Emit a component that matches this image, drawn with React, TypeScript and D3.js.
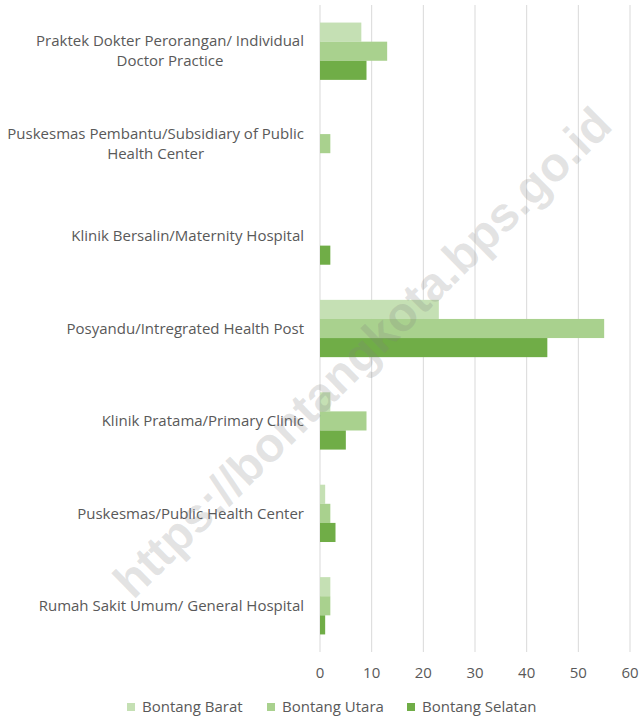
import React, { useEffect, useRef } from 'react';
import * as d3 from 'd3';

const categories = [
  'Praktek Dokter Perorangan/ Individual Doctor Practice',
  'Puskesmas Pembantu/Subsidiary of Public Health Center',
  'Klinik Bersalin/Maternity Hospital',
  'Posyandu/Intregrated Health Post',
  'Klinik Pratama/Primary Clinic',
  'Puskesmas/Public Health Center',
  'Rumah Sakit Umum/ General Hospital',
];
const seriesNames = ['Bontang Barat', 'Bontang Utara', 'Bontang Selatan'];
const bontangBarat = [8, 0, 0, 23, 2, 1, 2];
const bontangUtara = [13, 2, 0, 55, 9, 2, 2];
const bontangSelatan = [9, 0, 2, 44, 5, 3, 1];
const xTicks = [0, 10, 20, 30, 40, 50, 60];
const colors = ['#c5e0b4', '#a9d18e', '#70ad47'];

const W = 639;
const H = 718;
const FONT = '"Open Sans", sans-serif';
const FS = 15;

const App = () => {
  const ref = useRef<SVGSVGElement>(null);

  useEffect(() => {
    const svg = d3.select(ref.current);
    svg.selectAll('*').remove();

    const values = [bontangBarat, bontangUtara, bontangSelatan];

    const x = d3.scaleLinear().domain([0, 60]).range([320, 630]);
    const y = d3.scaleBand<string>()
      .domain(categories)
      .range([5, 652])
      .paddingInner(0.38)
      .paddingOuter(0.19);
    const ys = d3.scaleBand<string>()
      .domain(seriesNames)
      .range([0, y.bandwidth()]);

    // gridlines
    svg.append('g')
      .selectAll('line')
      .data(xTicks)
      .join('line')
      .attr('x1', d => x(d))
      .attr('x2', d => x(d))
      .attr('y1', 5)
      .attr('y2', 652)
      .attr('stroke', '#d9d9d9')
      .attr('stroke-width', 1);

    // bars
    const groups = svg.append('g')
      .selectAll('g')
      .data(categories)
      .join('g')
      .attr('transform', d => `translate(0,${y(d)})`);

    groups.selectAll('rect')
      .data((_, i) => seriesNames.map((s, j) => ({ s, v: values[j][i], j })))
      .join('rect')
      .attr('x', x(0))
      .attr('y', d => ys(d.s)!)
      .attr('width', d => x(d.v) - x(0))
      .attr('height', ys.bandwidth())
      .attr('fill', d => colors[d.j]);

    // tick labels
    svg.append('g')
      .selectAll('text')
      .data(xTicks)
      .join('text')
      .attr('x', d => x(d))
      .attr('y', 678)
      .attr('text-anchor', 'middle')
      .attr('font-family', FONT)
      .attr('font-size', FS)
      .attr('fill', '#595959')
      .text(d => d);

    // category labels, wrapped and centered in a right-aligned block
    const labelG = svg.append('g')
      .attr('font-family', FONT)
      .attr('font-size', FS)
      .attr('fill', '#595959');
    const measure = labelG.append('text');
    const widthOf = (s: string) => {
      measure.text(s);
      return (measure.node() as SVGTextElement).getComputedTextLength();
    };
    const maxW = 302;
    const rightEdge = 304;
    const lineH = 20;
    categories.forEach(cat => {
      const words = cat.split(' ');
      const lines: string[] = [];
      let cur = '';
      words.forEach(w => {
        const t = cur ? cur + ' ' + w : w;
        if (cur && widthOf(t) > maxW) {
          lines.push(cur);
          cur = w;
        } else cur = t;
      });
      if (cur) lines.push(cur);
      const blockW = d3.max(lines, l => widthOf(l))!;
      const cx = rightEdge - blockW / 2;
      const cy = y(cat)! + y.bandwidth() / 2;
      const top = cy - ((lines.length - 1) * lineH) / 2;
      lines.forEach((l, i) => {
        labelG.append('text')
          .attr('x', cx)
          .attr('y', top + i * lineH)
          .attr('dy', '0.35em')
          .attr('text-anchor', 'middle')
          .text(l);
      });
    });
    measure.remove();

    // legend
    const legendX = [127, 267, 407];
    const lg = svg.append('g')
      .selectAll('g')
      .data(seriesNames)
      .join('g')
      .attr('transform', (_, i) => `translate(${legendX[i]},703)`);
    lg.append('rect')
      .attr('width', 8)
      .attr('height', 8)
      .attr('fill', (_, i) => colors[i]);
    lg.append('text')
      .attr('x', 15)
      .attr('y', 4)
      .attr('dy', '0.35em')
      .attr('font-family', FONT)
      .attr('font-size', FS)
      .attr('fill', '#595959')
      .text(d => d);

    // watermark
    svg.append('text')
      .attr('transform', 'translate(362,352) rotate(-44.5)')
      .attr('text-anchor', 'middle')
      .attr('dy', '0.35em')
      .attr('font-family', '"Liberation Sans", Arial, sans-serif')
      .attr('font-weight', 'bold')
      .attr('font-size', 48)
      .attr('fill', 'rgba(128,128,128,0.22)')
      .text('https://bontangkota.bps.go.id');
  }, []);

  return (
    <svg
      ref={ref}
      width={W}
      height={H}
      style={{ position: 'absolute', left: 0, top: 0, background: '#fff' }}
    />
  );
};

export default App;
